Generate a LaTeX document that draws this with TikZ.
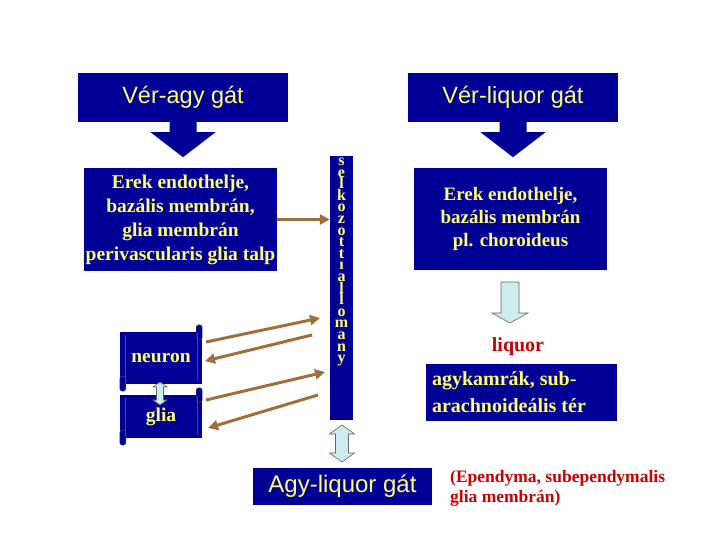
\documentclass[tikz,border=0pt]{standalone}
\usepackage{fontspec}
\setmainfont{Liberation Serif}
\newfontfamily\arialf{Liberation Sans}
\usetikzlibrary{arrows.meta,calc,backgrounds}
\definecolor{navy}{RGB}{0,0,150}
\definecolor{yel}{RGB}{255,255,110}
\definecolor{lblue}{RGB}{204,236,240}
\definecolor{brn}{RGB}{160,110,60}
\definecolor{rd}{RGB}{204,0,0}
\tikzset{
  bluebox/.style={fill=navy,draw=none,text=yel,inner sep=0pt,align=center},
  titlebox/.style={bluebox,minimum width=210pt,minimum height=49pt,font=\arialf\fontsize{23.5}{28}\selectfont},
  contentbox/.style={bluebox,minimum width=193pt,minimum height=103pt,font=\bfseries\fontsize{19.5}{24}\selectfont},
  scrollbox/.style={text=yel,inner sep=0pt,align=center,minimum width=82pt,font=\bfseries\fontsize{19.5}{24}\selectfont},
  brownarrow/.style={draw=brn,line width=3pt,-{Triangle[length=10pt,width=10pt]}},
  lightshape/.style={fill=lblue,draw=black!60,line width=0.6pt,line join=miter},
  redtext/.style={text=rd,font=\bfseries\fontsize{17.5}{20}\selectfont,inner sep=0pt}
}
\newcommand\scrolldeco[1]{%
  \fill[navy] (#1.north west) rectangle (#1.south east);
  \filldraw[navy,draw=black!70,line width=0.4pt,rounded corners=2.5pt]
    ([xshift=-6pt,yshift=-8pt]#1.north east) rectangle ([yshift=7pt]#1.north east);
  \filldraw[navy,draw=black!70,line width=0.4pt,rounded corners=2.5pt]
    ([yshift=8pt]#1.south west) rectangle ([xshift=6pt,yshift=-7pt]#1.south west);
  \draw[black!70,line width=0.5pt] ([xshift=5pt,yshift=-3pt]#1.north west) -- ([xshift=5pt,yshift=1pt]#1.south west);
  \draw[black!70,line width=0.5pt] ([xshift=-5pt,yshift=-1pt]#1.north east) -- ([xshift=-5pt,yshift=3pt]#1.south east);
}
\begin{document}
\begin{tikzpicture}[x=1pt,y=-1pt]
\useasboundingbox (0,0) rectangle (720,540);

% title boxes
\node[titlebox] (vag) at (183,97.5) {Vér-agy gát};
\node[titlebox] (vlg) at (513,97.5) {Vér-liquor gát};

% block arrows
\fill[navy] ([xshift=-13.5pt]vag.south) -- ++(0,10) -- ++(-19,0) -- ++(32.5,25) -- ++(32.5,-25) -- ++(-19,0) -- ++(0,-10) -- cycle;
\fill[navy] ([xshift=-13.5pt]vlg.south) -- ++(0,10) -- ++(-19,0) -- ++(32.5,25) -- ++(32.5,-25) -- ++(-19,0) -- ++(0,-10) -- cycle;

% content boxes
\node[contentbox] (lc) at (180.5,219.5) {Erek endothelje,\\bazális membrán,\\glia membrán\\perivascularis glia talp};
\node[contentbox,minimum height=102pt,font=\bfseries\fontsize{19}{23}\selectfont] (rc) at (510.5,219) {Erek endothelje,\\bazális membrán\\pl. choroideus};

% vertical bar
\node[bluebox,minimum width=23pt,minimum height=264pt] (bar) at (341.5,288) {};
\node[text=yel,inner sep=0pt,align=center,anchor=north,font=\bfseries\fontsize{16}{11.6}\selectfont] (bartxt) at ([yshift=-2pt]bar.north)
  {s\\e\\l\\k\\o\\z\\o\\t\\t\\ı\\a\\l\\l\\o\\m\\a\\n\\y};

% scrolls
\node[scrollbox,minimum height=52pt] (neuron) at (161,358) {neuron};
\node[scrollbox,minimum height=43pt] (glia) at (161,416.5) {glia};
\begin{scope}[on background layer]
\scrolldeco{neuron}
\scrolldeco{glia}
\end{scope}

% neuron-glia double arrow
\draw[lightshape] (160,382) -- (167,387) -- (163.5,387) -- (163.5,400) -- (167,400) -- (160,405) -- (153,400) -- (156.5,400) -- (156.5,387) -- (153,387) -- cycle;

% brown arrows
\coordinate (b1s) at (206,342); \coordinate (b1e) at (320,318);
\coordinate (b2s) at (312,335); \coordinate (b2e) at (205,361);
\coordinate (b3s) at (206,400); \coordinate (b3e) at (325,372);
\coordinate (b4s) at (318,395); \coordinate (b4e) at (208,428);
\draw[brownarrow] (lc.east) -- (bar.west |- lc.east);
\draw[brownarrow] (b1s) -- (b1e);
\draw[brownarrow] (b2s) -- (b2e);
\draw[brownarrow] (b3s) -- (b3e);
\draw[brownarrow] (b4s) -- (b4e);

% bar - agy-liquor double arrow
\draw[lightshape] (342,425) -- (354.5,434) -- (348.5,434) -- (348.5,453) -- (354.5,453) -- (342,462) -- (329.5,453) -- (335.5,453) -- (335.5,434) -- (329.5,434) -- cycle;

% agy-liquor box
\node[bluebox,minimum width=179pt,minimum height=37pt,font=\arialf\fontsize{24}{28}\selectfont] (alg) at (342.5,486.5) {Agy-liquor gát};

% red note
\node[redtext,anchor=west,align=left] (note) at (450,488) {(Ependyma, subependymalis\\glia membrán)};

% right side: light blue down arrow
\draw[lightshape] (501,282) -- (501,313) -- (492,313) -- (510,323) -- (528,313) -- (519,313) -- (519,282) -- cycle;

\node[redtext,font=\bfseries\fontsize{20}{24}\selectfont] (liq) at (518,347) {liquor};

\node[bluebox,minimum width=191pt,minimum height=57pt] (agyk) at (521.5,392.5) {};
\node[text=yel,inner sep=0pt,align=left,anchor=west,font=\bfseries\fontsize{20}{27}\selectfont] (agyktxt) at ([xshift=6pt]agyk.west) {agykamrák, sub-\\arachnoideális tér};
\end{tikzpicture}
\end{document}
